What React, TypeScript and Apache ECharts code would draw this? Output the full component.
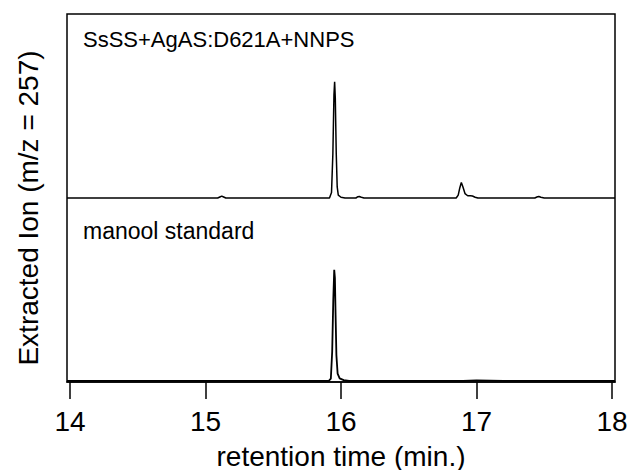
import React, { useEffect, useRef } from "react";
import * as echarts from "echarts";

// Retention time ticks (min.)
const xTicks = [14, 15, 16, 17, 18];

// Top trace: SsSS+AgAS:D621A+NNPS  [time, signal]
const topTrace: [number, number][] = [
  [13.978, 0], [15.09, 0], [15.11, 0.35], [15.12, 0.5], [15.13, 0.35], [15.15, 0],
  [15.915, 0], [15.93, 1.5], [15.94, 12], [15.948, 28], [15.953, 31.6], [15.958, 27],
  [15.965, 12], [15.972, 3], [15.98, 0.8], [16.0, 0.2], [16.03, 0],
  [16.11, 0], [16.125, 0.35], [16.135, 0.4], [16.15, 0.2], [16.17, 0],
  [16.85, 0], [16.865, 0.8], [16.877, 2.8], [16.888, 4.2], [16.9, 3.0], [16.915, 1.2],
  [16.935, 0.6], [16.955, 0.6], [16.97, 0.55], [16.99, 0.2], [17.01, 0],
  [17.43, 0], [17.45, 0.35], [17.46, 0.4], [17.475, 0.2], [17.5, 0], [18.022, 0],
];

// Bottom trace: manool standard  [time, signal]
const bottomTrace: [number, number][] = [
  [13.978, 0], [15.91, 0], [15.925, 0.6], [15.935, 8], [15.943, 22], [15.95, 30.2],
  [15.955, 28], [15.96, 18], [15.966, 7], [15.975, 2], [15.99, 0.7], [16.02, 0.2],
  [16.06, 0], [16.9, 0], [16.95, 0.1], [17.0, 0.15], [17.1, 0.1], [17.2, 0], [18.022, 0],
];

const topLabel = "SsSS+AgAS:D621A+NNPS";
const bottomLabel = "manool standard";
const xName = "retention time (min.)";
const yName = "Extracted Ion (m/z = 257)";

const TOP_OFFSET = 50;
const BOTTOM_OFFSET = 0.3;

export default function App() {
  const ref = useRef<HTMLDivElement>(null);
  useEffect(() => {
    if (!ref.current) return;
    const chart = echarts.init(ref.current, null, { renderer: "svg" });
    const font = "Liberation Sans, Arial, sans-serif";
    chart.setOption({
      animation: false,
      backgroundColor: "#fff",
      grid: {
        left: 67,
        right: 14,
        top: 14,
        bottom: 88,
        show: true,
        borderColor: "#000",
        borderWidth: 1.5,
        backgroundColor: "transparent",
        containLabel: false,
        outerBoundsMode: "none",
      },
      xAxis: {
        type: "value",
        min: 13.978,
        max: 18.022,
        name: xName,
        nameLocation: "middle",
        nameGap: 60,
        nameTextStyle: { fontSize: 28, color: "#000", fontFamily: font },
        axisLine: { show: true, lineStyle: { color: "#000", width: 1.5 } },
        axisTick: {
          show: true,
          inside: false,
          length: 17,
          customValues: xTicks,
          lineStyle: { color: "#000", width: 1.5 },
        },
        axisLabel: {
          customValues: xTicks,
          fontSize: 28,
          color: "#000",
          fontFamily: font,
          margin: 25,
        },
        splitLine: { show: false },
      },
      yAxis: {
        type: "value",
        min: 0,
        max: 100,
        axisLine: { show: false },
        axisTick: { show: false },
        axisLabel: { show: false },
        splitLine: { show: false },
      },
      series: [
        {
          type: "line",
          data: topTrace.map(([t, v]) => [t, v + TOP_OFFSET]),
          showSymbol: false,
          lineStyle: { color: "#000", width: 1.5 },
        },
        {
          type: "line",
          data: bottomTrace.map(([t, v]) => [t, v + BOTTOM_OFFSET]),
          showSymbol: false,
          lineStyle: { color: "#000", width: 1.8 },
        },
      ],
      graphic: [
        {
          type: "text",
          x: 28,
          y: 208,
          rotation: Math.PI / 2,
          style: {
            text: yName,
            fontSize: 28,
            fill: "#000",
            fontFamily: font,
            align: "center",
            verticalAlign: "middle",
          },
        },
        {
          type: "text",
          left: 83,
          top: 28,
          style: { text: topLabel, fontSize: 22, fill: "#000", fontFamily: font },
        },
        {
          type: "text",
          left: 83,
          top: 219,
          style: { text: bottomLabel, fontSize: 23, fill: "#000", fontFamily: font },
        },
      ],
    });
    return () => chart.dispose();
  }, []);
  return (
    <div
      ref={ref}
      style={{ position: "absolute", left: 0, top: 0, width: 629, height: 470 }}
    />
  );
}
